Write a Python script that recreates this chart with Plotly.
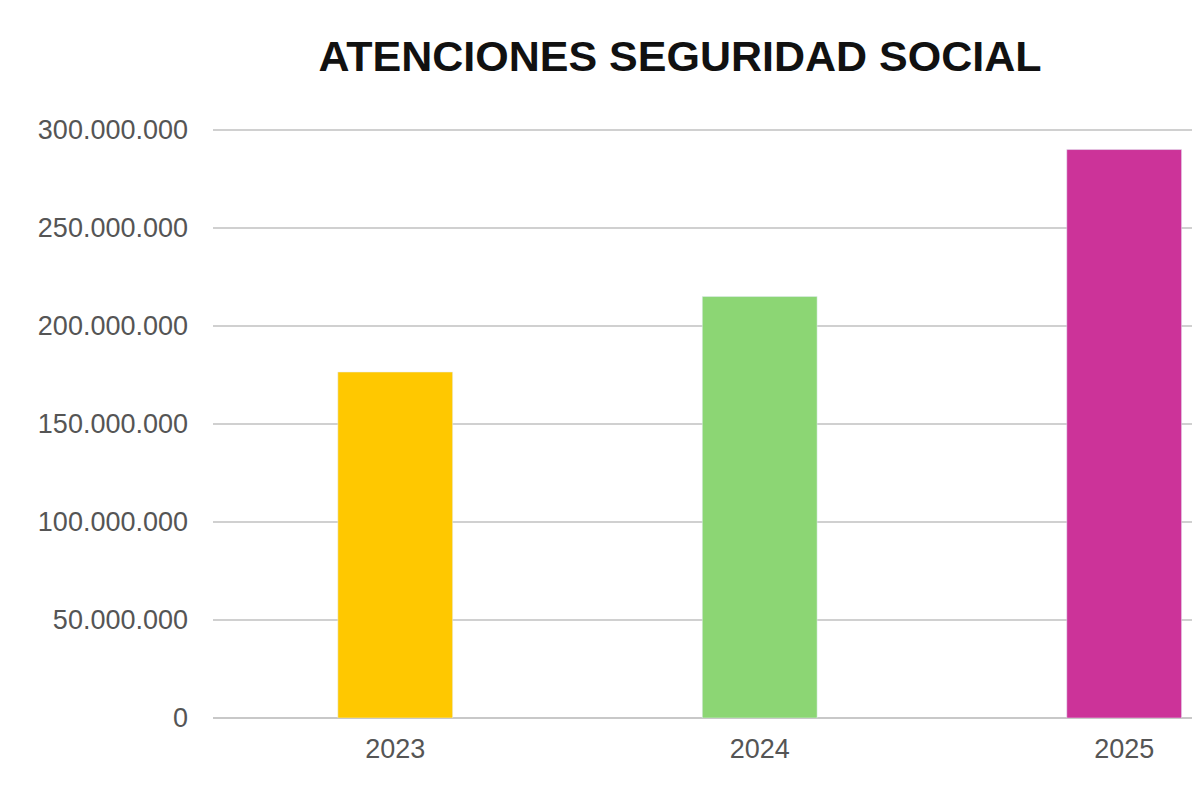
import plotly.graph_objects as go

years = ["2023", "2024", "2025"]
values = [176500000, 215000000, 290000000]
colors = ["#FFC800", "#8CD674", "#CC3399"]

fig = go.Figure(go.Bar(x=years, y=values, marker_color=colors, width=0.315))
fig.update_layout(
    width=1200, height=800, separators=",.",
    plot_bgcolor="white", paper_bgcolor="white",
    margin=dict(l=205, r=0, t=119, b=90),
    title=dict(text="<b>ATENCIONES SEGURIDAD SOCIAL</b>", x=0.56, xanchor="center",
               y=0.94, yanchor="middle", font=dict(family="Liberation Sans", size=43, color="#111")),
    showlegend=False,
)
fig.update_xaxes(type="category", range=[-0.5, 2.23], showgrid=False, showline=False,
                 ticks="", tickfont=dict(family="Liberation Sans", size=27, color="#555"), ticklabelstandoff=12)
fig.update_yaxes(range=[0, 301500000], dtick=50000000, tickformat=",d", gridcolor="#d0d0d0",
                 gridwidth=2, zeroline=True, zerolinecolor="#c8c8c8", zerolinewidth=2,
                 ticks="", tickfont=dict(family="Liberation Sans", size=27, color="#555"), ticklabelstandoff=24)
fig.write_html("out.html")
